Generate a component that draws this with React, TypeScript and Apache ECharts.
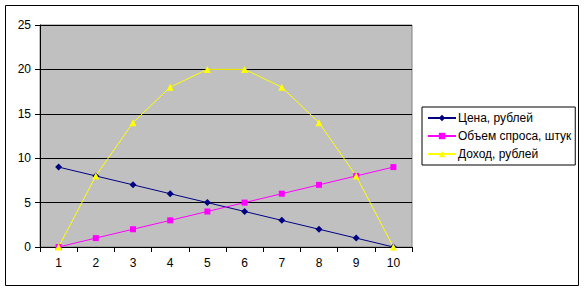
import React, { useEffect, useRef } from "react";
import * as echarts from "echarts";

const categories = ["1", "2", "3", "4", "5", "6", "7", "8", "9", "10"];
const priceValues = [9, 8, 7, 6, 5, 4, 3, 2, 1, 0];
const volumeValues = [0, 1, 2, 3, 4, 5, 6, 7, 8, 9];
const revenueValues = [0, 8, 14, 18, 20, 20, 18, 14, 8, 0];
const seriesNames = ["Цена, рублей", "Объем спроса, штук", "Доход, рублей"];

const FONT = "'Liberation Sans', Arial, sans-serif";

export default function App() {
  const ref = useRef<HTMLDivElement>(null);
  useEffect(() => {
    if (!ref.current) return;
    const chart = echarts.init(ref.current, undefined, { renderer: "svg" });
    chart.setOption({
      animation: false,
      backgroundColor: "#ffffff",
      textStyle: { fontFamily: FONT },
      graphic: [
        {
          type: "rect",
          shape: { x: 5.5, y: 5.5, width: 573, height: 280 },
          style: { fill: "none", stroke: "#000", lineWidth: 1 },
          silent: true,
          z: -1,
        },
      ],
      grid: {
        left: 40,
        top: 25,
        width: 372,
        height: 222,
        show: true,
        backgroundColor: "#C0C0C0",
        borderColor: "#808080",
        borderWidth: 1,
      },
      legend: {
        orient: "vertical",
        left: 422,
        top: 107,
        width: 154,
        borderColor: "#000",
        borderWidth: 1,
        padding: [5, 4, 5, 5],
        itemGap: 6,
        itemWidth: 28,
        itemHeight: 8,
        textStyle: { fontFamily: FONT, fontSize: 12, color: "#000", padding: [0, 0, 0, -3] },
        data: seriesNames,
      },
      xAxis: {
        type: "category",
        data: categories,
        boundaryGap: true,
        axisLine: { lineStyle: { color: "#000", width: 1 } },
        axisTick: { show: true, length: 5, inside: false, lineStyle: { color: "#000" } },
        axisLabel: { color: "#000", fontSize: 12, fontFamily: FONT, margin: 10 },
        splitLine: { show: false },
      },
      yAxis: {
        type: "value",
        min: 0,
        max: 25,
        interval: 5,
        axisLine: { show: true, lineStyle: { color: "#000", width: 1 } },
        axisTick: { show: true, length: 5, lineStyle: { color: "#000" } },
        axisLabel: { color: "#000", fontSize: 12, fontFamily: FONT, margin: 9 },
        splitLine: { show: true, lineStyle: { color: "#000", width: 1 } },
      },
      series: [
        {
          name: seriesNames[0],
          type: "line",
          data: priceValues,
          symbol: "diamond",
          symbolSize: 7,
          lineStyle: { color: "#000080", width: 1 },
          itemStyle: { color: "#000080" },
        },
        {
          name: seriesNames[1],
          type: "line",
          data: volumeValues,
          symbol: "rect",
          symbolSize: 6,
          lineStyle: { color: "#FF00FF", width: 1 },
          itemStyle: { color: "#FF00FF" },
        },
        {
          name: seriesNames[2],
          type: "line",
          data: revenueValues,
          symbol: "triangle",
          symbolSize: 7,
          lineStyle: { color: "#FFFF00", width: 1 },
          itemStyle: { color: "#FFFF00" },
        },
      ],
    });
    return () => chart.dispose();
  }, []);
  return (
    <div
      ref={ref}
      style={{ position: "fixed", left: 0, top: 0, width: 585, height: 291 }}
    />
  );
}
